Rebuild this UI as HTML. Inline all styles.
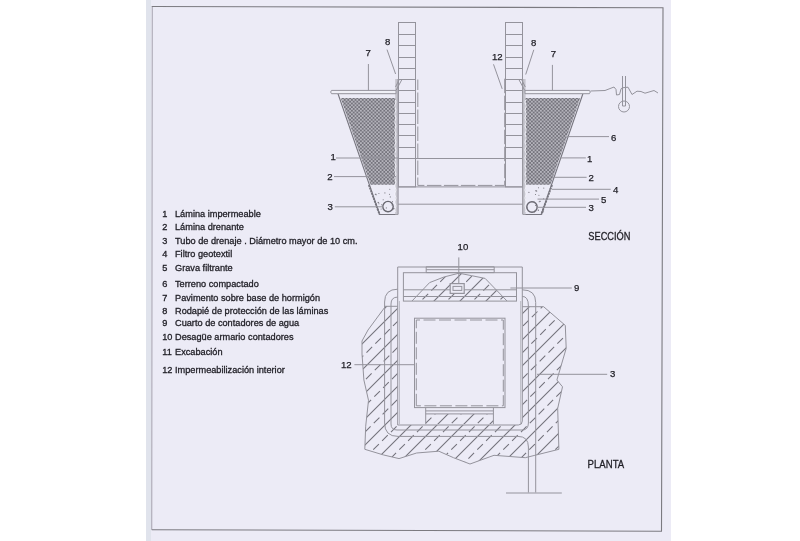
<!DOCTYPE html>
<html><head><meta charset="utf-8"><style>
html,body{margin:0;padding:0;width:800px;height:541px;overflow:hidden;background:#fff}
</style></head><body>
<svg width="800" height="541" viewBox="0 0 800 541" style="position:absolute;left:0;top:0;will-change:transform">
<defs>
<pattern id="grav" patternUnits="userSpaceOnUse" width="3.6" height="3.6">
<rect width="3.6" height="3.6" fill="#9a99a1"/>
<rect x="0.15" y="0.15" width="1.5" height="1.5" fill="#65646d"/>
<rect x="1.95" y="1.95" width="1.5" height="1.5" fill="#65646d"/>
<circle cx="2.7" cy="0.9" r="0.7" fill="#dcdbe2"/>
<circle cx="0.9" cy="2.7" r="0.7" fill="#dcdbe2"/>
</pattern>
<mask id="terr" maskUnits="userSpaceOnUse" x="0" y="0" width="800" height="541">
<path d="M385.5,306.3 L368,330 L362,341 L362,354 L363.9,380 L368.5,400.3 L365.7,426.2 L364.8,449.3 L383.3,454.9 L399,458.6 L416.6,453 L438.8,451.2 L453.5,457.7 L470,464 L494,455.3 L525.3,457.7 L534.9,455.3 L558.9,449.3 L557.7,408.4 L562.5,386.8 L556.9,380 L566.2,348.4 L565.3,325.4 L543.6,306.7 Z" fill="#fff"/>
<path d="M397.7,267 L522.3,267 L522.3,421 Q522.3,425 518.3,425 L397.7,425 Z" fill="#000"/>
</mask>
<clipPath id="mound">
<path d="M412,301 L429.6,282.6 Q444,276 459,273.2 L471.3,275.6 L485.1,278.4 L507,301 Z"/>
</clipPath>
<clipPath id="step">
<rect x="425.7" y="414" width="67.7" height="10.2"/>
</clipPath>
</defs>
<style>
.l{fill:none;stroke:#94939c;stroke-width:1}
.hs{stroke:#73727b;stroke-width:1.05}
.hd{stroke:#73727b;stroke-width:1.05;stroke-dasharray:8 4.5}
.t{font-family:"Liberation Sans",sans-serif;fill:#1f1e25;stroke:#1f1e25;stroke-width:0.3px}
.lb{font-family:"Liberation Sans",sans-serif;fill:#1f1e25;stroke:#1f1e25;stroke-width:0.25px;font-size:9.6px}
</style>
<rect x="0" y="0" width="800" height="541" fill="#ffffff"/>
<rect x="146" y="0" width="525" height="541" fill="#ecebf6"/>
<rect x="146" y="0" width="5" height="541" fill="#e0e3ec"/>
<path d="M152.25,6.5 L151.75,529.75" fill="none" stroke="#a4a1ad" stroke-width="1"/>
<path d="M151.75,6.5 L663,7.7 L661.5,531.25 L151.75,529.75" fill="none" stroke="#7b7a80" stroke-width="1.1"/>

<rect x="398.5" y="22.5" width="17.0" height="164.4" class="l"/>
<line x1="398.5" y1="34.5" x2="415.5" y2="34.5" class="l"/>
<line x1="398.5" y1="45.5" x2="415.5" y2="45.5" class="l"/>
<line x1="398.5" y1="57.5" x2="415.5" y2="57.5" class="l"/>
<line x1="398.5" y1="68.5" x2="415.5" y2="68.5" class="l"/>
<line x1="398.5" y1="79.5" x2="415.5" y2="79.5" class="l"/>
<line x1="398.5" y1="90.5" x2="415.5" y2="90.5" class="l"/>
<line x1="398.5" y1="102.5" x2="415.5" y2="102.5" class="l"/>
<line x1="398.5" y1="113.5" x2="415.5" y2="113.5" class="l"/>
<line x1="398.5" y1="124.5" x2="415.5" y2="124.5" class="l"/>
<line x1="398.5" y1="135.5" x2="415.5" y2="135.5" class="l"/>
<line x1="398.5" y1="147.5" x2="415.5" y2="147.5" class="l"/>

<rect x="505.5" y="22.5" width="17.0" height="164.4" class="l"/>
<line x1="505.5" y1="34.5" x2="522.5" y2="34.5" class="l"/>
<line x1="505.5" y1="45.5" x2="522.5" y2="45.5" class="l"/>
<line x1="505.5" y1="57.5" x2="522.5" y2="57.5" class="l"/>
<line x1="505.5" y1="68.5" x2="522.5" y2="68.5" class="l"/>
<line x1="505.5" y1="79.5" x2="522.5" y2="79.5" class="l"/>
<line x1="505.5" y1="90.5" x2="522.5" y2="90.5" class="l"/>
<line x1="505.5" y1="102.5" x2="522.5" y2="102.5" class="l"/>
<line x1="505.5" y1="113.5" x2="522.5" y2="113.5" class="l"/>
<line x1="505.5" y1="124.5" x2="522.5" y2="124.5" class="l"/>
<line x1="505.5" y1="135.5" x2="522.5" y2="135.5" class="l"/>
<line x1="505.5" y1="147.5" x2="522.5" y2="147.5" class="l"/>

<path d="M417.8,79.5 L417.8,185.4 L504.7,185.4 L504.7,78" class="l" style="stroke-dasharray:14.5 2.5;stroke-dashoffset:4"/>
<line x1="398" y1="158.5" x2="525" y2="158.5" class="l"/>
<line x1="398" y1="186.9" x2="525" y2="186.9" class="l"/>
<line x1="398" y1="204.2" x2="525" y2="204.2" class="l"/>
<path d="M340.7,98 L396,98 L396,184.8 L370.5,184.8 Z" fill="url(#grav)"/>
<path d="M338,93.7 L379.6,214.5 L398,214.5" class="l" style="stroke:#77767f;stroke-width:1.1"/>
<path d="M368.9,185 L379.6,214.5" class="l" style="stroke:#75747d;stroke-width:1.9;stroke-dasharray:2 0.8"/>
<path d="M580.2,98 L525,98 L525,184.8 L550.4,184.8 Z" fill="url(#grav)"/>
<path d="M582.9,93.7 L541.3,214.5 L523,214.5" class="l" style="stroke:#77767f;stroke-width:1.1"/>
<path d="M552,185 L541.3,214.5" class="l" style="stroke:#75747d;stroke-width:1.9;stroke-dasharray:2 0.8"/>
<rect x="395.2" y="79" width="2.9" height="135.5" fill="#c6c5ce"/>
<path d="M395.3,100 Q396.6,102 395.3,104 Q394.2,106 395.3,108 Q396.6,110 395.3,112 Q394.2,114 395.3,116 Q396.6,118 395.3,120 Q394.2,122 395.3,124 Q396.6,126 395.3,128 Q394.2,130 395.3,132 Q396.6,134 395.3,136 Q394.2,138 395.3,140 Q396.6,142 395.3,144 Q394.2,146 395.3,148 Q396.6,150 395.3,152 Q394.2,154 395.3,156 Q396.6,158 395.3,160 Q394.2,162 395.3,164 Q396.6,166 395.3,168 Q394.2,170 395.3,172 Q396.6,174 395.3,176 Q394.2,178 395.3,180 Q396.6,182 395.3,184 Q394.2,186 395.3,188 Q396.6,190 395.3,192 Q394.2,194 395.3,196 Q396.6,198 395.3,200 Q394.2,202 395.3,204 Q396.6,206 395.3,208 Q394.2,210 395.3,212" fill="none" stroke="#f4f4fa" stroke-width="0.9"/>
<line x1="398.1" y1="79" x2="398.1" y2="214.5" class="l"/>
<rect x="522.7" y="79" width="2.9" height="135.5" fill="#c6c5ce"/>
<path d="M525.6,100 Q524.3,102 525.6,104 Q526.7,106 525.6,108 Q524.3,110 525.6,112 Q526.7,114 525.6,116 Q524.3,118 525.6,120 Q526.7,122 525.6,124 Q524.3,126 525.6,128 Q526.7,130 525.6,132 Q524.3,134 525.6,136 Q526.7,138 525.6,140 Q524.3,142 525.6,144 Q526.7,146 525.6,148 Q524.3,150 525.6,152 Q526.7,154 525.6,156 Q524.3,158 525.6,160 Q526.7,162 525.6,164 Q524.3,166 525.6,168 Q526.7,170 525.6,172 Q524.3,174 525.6,176 Q526.7,178 525.6,180 Q524.3,182 525.6,184 Q526.7,186 525.6,188 Q524.3,190 525.6,192 Q526.7,194 525.6,196 Q524.3,198 525.6,200 Q526.7,202 525.6,204 Q524.3,206 525.6,208 Q526.7,210 525.6,212" fill="none" stroke="#f4f4fa" stroke-width="0.9"/>
<line x1="522.7" y1="79" x2="522.7" y2="214.5" class="l"/>
<path d="M402.2,79 L396,90.5 M399.5,79 L395.5,87" class="l"/>
<path d="M518.6,79 L524.8,90.5 M521.3,79 L525.3,87" class="l"/>
<path d="M331.5,90.4 L396,90.4 L396,93.7 L331.5,93.7 Q329.8,92 331.5,90.4 Z" fill="#f0f0f7" stroke="#94939c" stroke-width="1"/>
<path d="M525,90.4 L589.4,90.4 Q591.2,92 589.4,93.7 L525,93.7 Z" fill="#f0f0f7" stroke="#94939c" stroke-width="1"/>
<circle cx="388" cy="206.6" r="5.2" fill="none" stroke="#67666f" stroke-width="1.4"/>
<circle cx="532" cy="207" r="5.2" fill="none" stroke="#67666f" stroke-width="1.4"/>
<circle cx="384.9" cy="192.9" r="0.55" fill="#77767e"/>
<circle cx="534.3" cy="202.1" r="0.55" fill="#77767e"/>
<circle cx="378.6" cy="202.6" r="0.55" fill="#77767e"/>
<circle cx="527.2" cy="207.9" r="0.55" fill="#77767e"/>
<circle cx="378.9" cy="193.5" r="0.55" fill="#77767e"/>
<circle cx="546.5" cy="198.8" r="0.55" fill="#77767e"/>
<circle cx="386.3" cy="207.9" r="0.55" fill="#77767e"/>
<circle cx="536.3" cy="190.8" r="0.55" fill="#77767e"/>
<circle cx="391.8" cy="202.9" r="0.55" fill="#77767e"/>
<circle cx="535.6" cy="205.5" r="0.55" fill="#77767e"/>
<circle cx="378.9" cy="203.8" r="0.55" fill="#77767e"/>
<circle cx="539.2" cy="201.8" r="0.55" fill="#77767e"/>
<circle cx="375.3" cy="194.5" r="0.55" fill="#77767e"/>
<circle cx="543.6" cy="198.8" r="0.55" fill="#77767e"/>
<circle cx="392.1" cy="205.0" r="0.55" fill="#77767e"/>
<circle cx="538.2" cy="210.0" r="0.55" fill="#77767e"/>
<circle cx="390.3" cy="196.9" r="0.55" fill="#77767e"/>
<circle cx="535.2" cy="210.4" r="0.55" fill="#77767e"/>
<circle cx="381.1" cy="209.0" r="0.55" fill="#77767e"/>
<circle cx="528.9" cy="192.4" r="0.55" fill="#77767e"/>
<circle cx="386.3" cy="211.1" r="0.55" fill="#77767e"/>
<circle cx="535.5" cy="194.5" r="0.55" fill="#77767e"/>
<circle cx="383.2" cy="199.7" r="0.55" fill="#77767e"/>
<circle cx="533.1" cy="201.6" r="0.55" fill="#77767e"/>
<circle cx="392.4" cy="201.6" r="0.55" fill="#77767e"/>
<circle cx="538.4" cy="210.2" r="0.55" fill="#77767e"/>
<circle cx="393.9" cy="208.4" r="0.55" fill="#77767e"/>
<circle cx="536.7" cy="191.1" r="0.55" fill="#77767e"/>
<circle cx="393.5" cy="208.5" r="0.55" fill="#77767e"/>
<circle cx="540.0" cy="201.2" r="0.55" fill="#77767e"/>
<circle cx="381.6" cy="204.8" r="0.55" fill="#77767e"/>
<circle cx="540.0" cy="201.3" r="0.55" fill="#77767e"/>
<circle cx="375.8" cy="194.1" r="0.55" fill="#77767e"/>
<circle cx="543.5" cy="211.7" r="0.55" fill="#77767e"/>
<circle cx="389.8" cy="189.2" r="0.55" fill="#77767e"/>
<circle cx="535.6" cy="190.8" r="0.55" fill="#77767e"/>
<circle cx="389.5" cy="194.3" r="0.55" fill="#77767e"/>
<circle cx="543.8" cy="188.1" r="0.55" fill="#77767e"/>
<circle cx="378.1" cy="202.4" r="0.55" fill="#77767e"/>
<circle cx="538.9" cy="195.3" r="0.55" fill="#77767e"/>
<circle cx="393.7" cy="209.0" r="0.55" fill="#77767e"/>
<circle cx="534.2" cy="212.0" r="0.55" fill="#77767e"/>
<circle cx="376.2" cy="194.7" r="0.55" fill="#77767e"/>
<circle cx="538.5" cy="187.8" r="0.55" fill="#77767e"/>
<line x1="336" y1="158" x2="398" y2="158" class="l"/>
<line x1="334" y1="176.6" x2="396" y2="176.6" class="l"/>
<line x1="334.8" y1="206.8" x2="383" y2="206.8" class="l"/>
<line x1="368.4" y1="64" x2="368.4" y2="90.4" class="l"/>
<line x1="387" y1="49.6" x2="395.6" y2="74" class="l"/>
<line x1="552.4" y1="64.9" x2="552.4" y2="90.4" class="l"/>
<line x1="533.8" y1="49.8" x2="525.7" y2="74.5" class="l"/>
<line x1="493.5" y1="64.3" x2="502.2" y2="88.9" class="l"/>
<line x1="567" y1="136.6" x2="609" y2="136.6" class="l"/>
<line x1="560" y1="157.9" x2="585.8" y2="157.9" class="l"/>
<line x1="553" y1="177.3" x2="586.6" y2="177.3" class="l"/>
<line x1="552" y1="189.3" x2="610.7" y2="189.3" class="l"/>
<line x1="537.5" y1="199.1" x2="599" y2="199.1" class="l"/>
<line x1="536" y1="207.3" x2="586" y2="207.3" class="l"/>
<path d="M590.5,91 L605,90.5 L614,87 L616,89.5 L616.5,95 L619.5,94.5 L621,89 L622,87.8 L628,87.2 L629,89 L632,94.5 L637,91.2 L641,91.5 L645,93.2 L649,92 L654,90.5 L658,93" class="l"/>
<path d="M622.5,76 L622.5,106 L625.5,106 L625.5,76" class="l"/>
<circle cx="624" cy="106.5" r="5.5" class="l"/>
<text x="330.40" y="160.20" class="lb">1</text>
<text x="327.20" y="180.00" class="lb">2</text>
<text x="327.60" y="210.00" class="lb">3</text>
<text x="385.00" y="45.20" class="lb">8</text>
<text x="365.40" y="55.70" class="lb">7</text>
<text x="531.00" y="45.60" class="lb">8</text>
<text x="550.80" y="56.80" class="lb">7</text>
<text x="491.90" y="60.20" class="lb">12</text>
<text x="611.10" y="140.70" class="lb">6</text>
<text x="587.10" y="161.80" class="lb">1</text>
<text x="588.50" y="180.90" class="lb">2</text>
<text x="613.00" y="193.30" class="lb">4</text>
<text x="601.00" y="203.30" class="lb">5</text>
<text x="588.50" y="210.60" class="lb">3</text>
<text transform="translate(588.3,239.5) scale(0.965,1.15)" class="t" style="font-size:9.6px;stroke-width:0.25px">SECCIÓN</text>
<g mask="url(#terr)"><line x1="54" y1="600" x2="654" y2="0" class="hs"/>
<line x1="67" y1="600" x2="667" y2="0" class="hd"/>
<line x1="80" y1="600" x2="680" y2="0" class="hs"/>
<line x1="93" y1="600" x2="693" y2="0" class="hd"/>
<line x1="106" y1="600" x2="706" y2="0" class="hs"/>
<line x1="119" y1="600" x2="719" y2="0" class="hd"/>
<line x1="132" y1="600" x2="732" y2="0" class="hs"/>
<line x1="145" y1="600" x2="745" y2="0" class="hd"/>
<line x1="158" y1="600" x2="758" y2="0" class="hs"/>
<line x1="171" y1="600" x2="771" y2="0" class="hd"/>
<line x1="184" y1="600" x2="784" y2="0" class="hs"/>
<line x1="197" y1="600" x2="797" y2="0" class="hd"/>
<line x1="210" y1="600" x2="810" y2="0" class="hs"/>
<line x1="223" y1="600" x2="823" y2="0" class="hd"/>
<line x1="236" y1="600" x2="836" y2="0" class="hs"/>
<line x1="249" y1="600" x2="849" y2="0" class="hd"/>
<line x1="262" y1="600" x2="862" y2="0" class="hs"/>
<line x1="275" y1="600" x2="875" y2="0" class="hd"/>
<line x1="288" y1="600" x2="888" y2="0" class="hs"/>
<line x1="301" y1="600" x2="901" y2="0" class="hd"/>
<line x1="314" y1="600" x2="914" y2="0" class="hs"/>
<line x1="327" y1="600" x2="927" y2="0" class="hd"/>
<line x1="340" y1="600" x2="940" y2="0" class="hs"/>
<line x1="353" y1="600" x2="953" y2="0" class="hd"/>
<line x1="366" y1="600" x2="966" y2="0" class="hs"/>
<line x1="379" y1="600" x2="979" y2="0" class="hd"/>
<line x1="392" y1="600" x2="992" y2="0" class="hs"/>
<line x1="405" y1="600" x2="1005" y2="0" class="hd"/>
<line x1="418" y1="600" x2="1018" y2="0" class="hs"/>
<line x1="431" y1="600" x2="1031" y2="0" class="hd"/>
<line x1="444" y1="600" x2="1044" y2="0" class="hs"/>
<line x1="457" y1="600" x2="1057" y2="0" class="hd"/>
<line x1="470" y1="600" x2="1070" y2="0" class="hs"/>
<line x1="483" y1="600" x2="1083" y2="0" class="hd"/></g>
<g clip-path="url(#mound)"><line x1="57" y1="600" x2="657" y2="0" class="hs"/>
<line x1="70" y1="600" x2="670" y2="0" class="hd"/>
<line x1="83" y1="600" x2="683" y2="0" class="hs"/>
<line x1="96" y1="600" x2="696" y2="0" class="hd"/>
<line x1="109" y1="600" x2="709" y2="0" class="hs"/>
<line x1="122" y1="600" x2="722" y2="0" class="hd"/>
<line x1="135" y1="600" x2="735" y2="0" class="hs"/>
<line x1="148" y1="600" x2="748" y2="0" class="hd"/>
<line x1="161" y1="600" x2="761" y2="0" class="hs"/>
<line x1="174" y1="600" x2="774" y2="0" class="hd"/>
<line x1="187" y1="600" x2="787" y2="0" class="hs"/>
<line x1="200" y1="600" x2="800" y2="0" class="hd"/>
<line x1="213" y1="600" x2="813" y2="0" class="hs"/>
<line x1="226" y1="600" x2="826" y2="0" class="hd"/>
<line x1="239" y1="600" x2="839" y2="0" class="hs"/>
<line x1="252" y1="600" x2="852" y2="0" class="hd"/>
<line x1="265" y1="600" x2="865" y2="0" class="hs"/>
<line x1="278" y1="600" x2="878" y2="0" class="hd"/></g>
<g clip-path="url(#step)"><line x1="184" y1="600" x2="784" y2="0" class="hs"/>
<line x1="197" y1="600" x2="797" y2="0" class="hd"/>
<line x1="210" y1="600" x2="810" y2="0" class="hs"/>
<line x1="223" y1="600" x2="823" y2="0" class="hd"/>
<line x1="236" y1="600" x2="836" y2="0" class="hs"/>
<line x1="249" y1="600" x2="849" y2="0" class="hd"/>
<line x1="262" y1="600" x2="862" y2="0" class="hs"/>
<line x1="275" y1="600" x2="875" y2="0" class="hd"/>
<line x1="288" y1="600" x2="888" y2="0" class="hs"/>
<line x1="301" y1="600" x2="901" y2="0" class="hd"/>
<line x1="314" y1="600" x2="914" y2="0" class="hs"/>
<line x1="327" y1="600" x2="927" y2="0" class="hd"/>
<line x1="340" y1="600" x2="940" y2="0" class="hs"/>
<line x1="353" y1="600" x2="953" y2="0" class="hd"/>
<line x1="366" y1="600" x2="966" y2="0" class="hs"/>
<line x1="379" y1="600" x2="979" y2="0" class="hd"/></g>
<path d="M385.5,306.3 L368,330 L362,341 L362,354 L363.9,380 L368.5,400.3 L365.7,426.2 L364.8,449.3 L383.3,454.9 L399,458.6 L416.6,453 L438.8,451.2 L453.5,457.7 L470,464 L494,455.3 L525.3,457.7 L534.9,455.3 L558.9,449.3 L557.7,408.4 L562.5,386.8 L556.9,380 L566.2,348.4 L565.3,325.4 L543.6,306.7 L535.7,306.7" class="l"/>
<line x1="384.6" y1="306.3" x2="397.7" y2="306.3" class="l"/>
<line x1="522.3" y1="306.7" x2="535.7" y2="306.7" class="l"/>
<path d="M397.7,267 L522.3,267 L522.3,421 Q522.3,425 518.3,425 L397.7,425 Z" class="l"/>
<line x1="399.4" y1="301" x2="399.4" y2="424" class="l" style="stroke-width:0.6"/>
<line x1="520.7" y1="301" x2="520.7" y2="424" class="l" style="stroke-width:0.6"/>
<rect x="414.5" y="318.2" width="90.5" height="89.4" class="l"/>
<path d="M416.3,405.8 L416.3,320 L503.3,320 L503.3,405.8 Z" class="l" style="stroke-dasharray:12 3.5"/>
<rect x="403.4" y="272.7" width="113.1" height="28.4" class="l"/>
<path d="M426.2,266.8 L494.2,266.8 L494.2,272.6 L426.2,272.6 Z M426.2,269.7 L494.2,269.7" class="l"/>
<line x1="403.4" y1="289.8" x2="516.5" y2="289.8" class="l"/>
<line x1="403.4" y1="296.5" x2="516.5" y2="296.5" class="l"/>
<path d="M412,301 L429.6,282.6 Q444,276 459,273.2 L471.3,275.6 L485.1,278.4 L507,301" class="l"/>
<rect x="450.2" y="283.6" width="14" height="9.8" fill="#ecebf6" stroke="#94939c" stroke-width="1.2"/>
<rect x="453" y="286.4" width="8.8" height="4" class="l"/>
<line x1="458.8" y1="257.4" x2="458.8" y2="283" class="l"/>
<path d="M425.7,407.7 L425.7,424.2 M493.4,407.7 L493.4,424.2 M425.7,410.9 L493.4,410.9 M425.7,413.9 L493.4,413.9" class="l"/>
<path d="M397.7,289.2 Q384.6,289.2 384.6,302 L384.6,423 Q384.6,436.4 398,436.4 L518,436.4 Q528.4,436.4 528.4,447 L528.4,492.5" class="l"/>
<path d="M397.7,297.1 Q391,297.1 391,304 L391,424 Q391,430 397,430 L522,430 Q528.4,430 528.4,423 L528.4,306 Q528.4,296.4 522.3,296.4" class="l"/>
<path d="M522.3,289.8 Q535.7,289.8 535.7,302.5 L535.7,492.5" class="l"/>
<line x1="506" y1="493" x2="561.8" y2="493" class="l"/>
<line x1="510.4" y1="288" x2="571.8" y2="288" class="l"/>
<line x1="537" y1="374.3" x2="607.2" y2="374.3" class="l"/>
<line x1="354.4" y1="364.7" x2="415" y2="364.7" class="l"/>
<text x="457.60" y="249.70" class="lb">10</text>
<text x="573.90" y="291.30" class="lb">9</text>
<text x="609.90" y="377.30" class="lb">3</text>
<text x="340.90" y="368.10" class="lb">12</text>
<text transform="translate(587.6,467.8) scale(1,1.15)" class="t" style="font-size:9.6px;stroke-width:0.25px">PLANTA</text>
<text transform="translate(162.2,216.8) scale(1,1.03)" class="t" style="font-size:9.2px">1</text>
<text transform="translate(175,216.8) scale(1,1.03)" class="t" style="font-size:9.2px">Lámina impermeable</text>
<text transform="translate(162.2,230.4) scale(1,1.03)" class="t" style="font-size:9.2px">2</text>
<text transform="translate(175,230.4) scale(1,1.03)" class="t" style="font-size:9.2px">Lámina drenante</text>
<text transform="translate(162.2,243.8) scale(1,1.03)" class="t" style="font-size:9.2px">3</text>
<text transform="translate(175,243.8) scale(1,1.03)" class="t" style="font-size:9.2px">Tubo de drenaje . Diámetro mayor de 10 cm.</text>
<text transform="translate(162.2,257.4) scale(1,1.03)" class="t" style="font-size:9.2px">4</text>
<text transform="translate(175,257.4) scale(1,1.03)" class="t" style="font-size:9.2px">Filtro geotextil</text>
<text transform="translate(162.2,271.2) scale(1,1.03)" class="t" style="font-size:9.2px">5</text>
<text transform="translate(175,271.2) scale(1,1.03)" class="t" style="font-size:9.2px">Grava filtrante</text>
<text transform="translate(162.2,286.7) scale(1,1.03)" class="t" style="font-size:9.2px">6</text>
<text transform="translate(175,286.7) scale(1,1.03)" class="t" style="font-size:9.2px">Terreno compactado</text>
<text transform="translate(162.2,300.5) scale(1,1.03)" class="t" style="font-size:9.2px">7</text>
<text transform="translate(175,300.5) scale(1,1.03)" class="t" style="font-size:9.2px">Pavimento sobre base de hormigón</text>
<text transform="translate(162.2,314.2) scale(1,1.03)" class="t" style="font-size:9.2px">8</text>
<text transform="translate(175,314.2) scale(1,1.03)" class="t" style="font-size:9.2px">Rodapié de protección de las láminas</text>
<text transform="translate(162.2,326.3) scale(1,1.03)" class="t" style="font-size:9.2px">9</text>
<text transform="translate(175,326.3) scale(1,1.03)" class="t" style="font-size:9.2px">Cuarto de contadores de agua</text>
<text transform="translate(162.2,339.5) scale(1,1.03)" class="t" style="font-size:9.2px">10</text>
<text transform="translate(175,339.5) scale(1,1.03)" class="t" style="font-size:9.2px">Desagüe armario contadores</text>
<text transform="translate(162.2,355) scale(1,1.03)" class="t" style="font-size:9.2px">11</text>
<text transform="translate(175,355) scale(1,1.03)" class="t" style="font-size:9.2px">Excabación</text>
<text transform="translate(162.2,373) scale(1,1.03)" class="t" style="font-size:9.2px">12</text>
<text transform="translate(175,373) scale(1,1.03)" class="t" style="font-size:9.2px">Impermeabilización interior</text>
</svg>
</body></html>
